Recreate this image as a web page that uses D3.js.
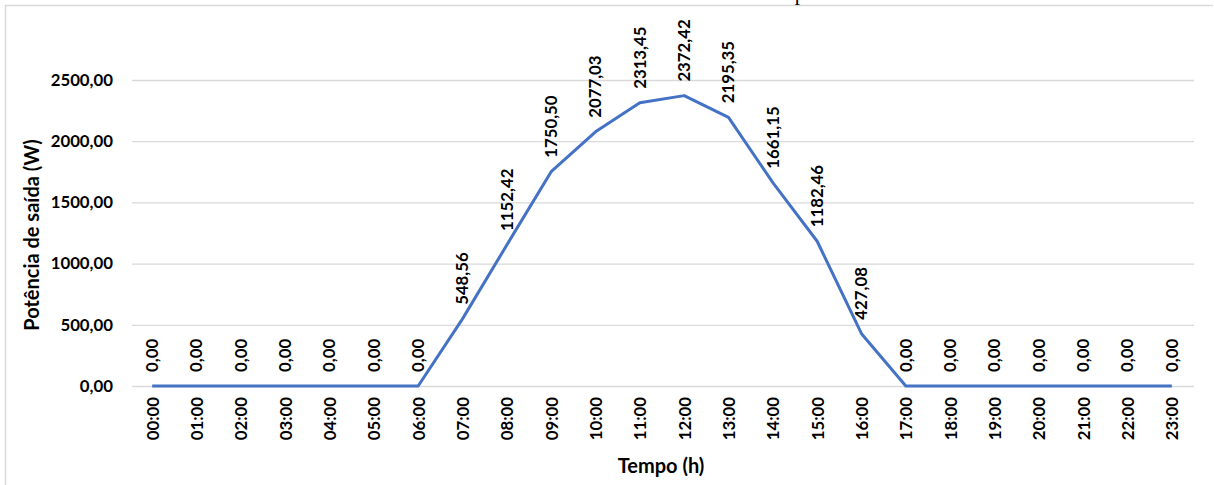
<!DOCTYPE html>
<html>
<head>
<meta charset="utf-8">
<script src="https://cdn.jsdelivr.net/npm/d3@7"></script>
<style>
  html, body { margin: 0; padding: 0; background: #fff; }
  svg { display: block; }
</style>
</head>
<body>
<svg id="chart" width="1214" height="485"></svg>
<script>
// Hourly output power of the PV system over one day
const hours = ["00:00","01:00","02:00","03:00","04:00","05:00","06:00","07:00","08:00","09:00","10:00","11:00",
               "12:00","13:00","14:00","15:00","16:00","17:00","18:00","19:00","20:00","21:00","22:00","23:00"];
const power = [0, 0, 0, 0, 0, 0, 0, 548.56, 1152.42, 1750.50, 2077.03, 2313.45,
               2372.42, 2195.35, 1661.15, 1182.46, 427.08, 0, 0, 0, 0, 0, 0, 0];
const yTicks = [0, 500, 1000, 1500, 2000, 2500];

const svg = d3.select("#chart");
const font = "Lato, 'Open Sans', sans-serif";
const fmt = v => d3.format(".2f")(v).replace(".", ",");

// frame of the figure
svg.append("line").attr("x1", 5).attr("x2", 1213).attr("y1", 5.5).attr("y2", 5.5)
  .attr("stroke", "#d9d9d9").attr("stroke-width", 1.5);
svg.append("line").attr("x1", 5.5).attr("x2", 5.5).attr("y1", 5).attr("y2", 485)
  .attr("stroke", "#d9d9d9").attr("stroke-width", 1.5);

// title glyph above the frame
svg.append("text").attr("x", 800).attr("y", 0).attr("text-anchor", "middle")
  .attr("font-family", "'Liberation Serif', serif").attr("font-size", 21).attr("fill", "#000").text("p");

const x = d3.scalePoint().domain(hours).range([130, 1194]).padding(0.5);
const y = d3.scaleLinear().domain([0, 2500]).range([386, 80]);

// horizontal gridlines
const yAxis = svg.append("g").attr("transform", "translate(132,0)")
  .call(d3.axisLeft(y).tickValues(yTicks).tickSize(-1062).tickFormat(fmt).tickPadding(19));
yAxis.select(".domain").remove();
yAxis.selectAll(".tick line").attr("stroke", "#d9d9d9").attr("stroke-width", 1.3);
yAxis.selectAll(".tick text").attr("font-family", font).attr("font-weight", 700)
  .attr("font-size", 16.8).attr("fill", "#000");

// category axis, labels rotated
const xAxis = svg.append("g").attr("transform", "translate(0,386)")
  .call(d3.axisBottom(x).tickSize(0).tickPadding(0));
xAxis.select(".domain").remove();
xAxis.selectAll(".tick text")
  .attr("transform", "translate(0,11) rotate(-90)")
  .attr("text-anchor", "end").attr("dy", "0.35em").attr("x", 0).attr("y", 0)
  .attr("font-family", font).attr("font-weight", 700).attr("font-size", 16.8).attr("fill", "#000");

// power curve
svg.append("path").datum(power)
  .attr("d", d3.line().x((d, i) => x(hours[i])).y(d => y(d)))
  .attr("fill", "none").attr("stroke", "#4472C4").attr("stroke-width", 3)
  .attr("stroke-linejoin", "round");

// value labels above each point
svg.append("g").selectAll("text").data(power).join("text")
  .attr("transform", (d, i) => `translate(${x(hours[i])},${y(d) - 14}) rotate(-90)`)
  .attr("text-anchor", "start").attr("dy", "0.35em")
  .attr("font-family", font).attr("font-weight", 700).attr("font-size", 16.8).attr("fill", "#000")
  .text(d => fmt(d));

// axis titles
svg.append("text").attr("transform", "translate(39,235) rotate(-90)").attr("text-anchor", "middle")
  .attr("font-family", font).attr("font-weight", 700).attr("font-size", 20).attr("fill", "#000")
  .text("Potência de saída (W)");
svg.append("text").attr("x", 661).attr("y", 473).attr("text-anchor", "middle")
  .attr("font-family", font).attr("font-weight", 700).attr("font-size", 20).attr("fill", "#000")
  .text("Tempo (h)");
</script>
</body>
</html>
